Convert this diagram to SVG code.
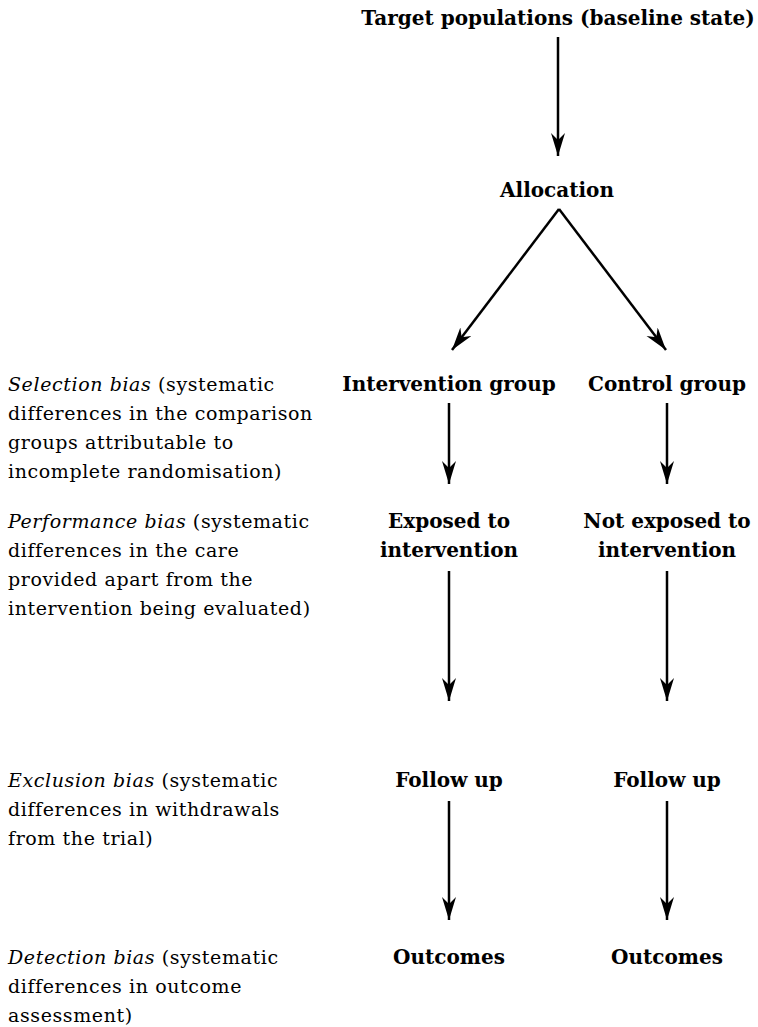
<svg xmlns="http://www.w3.org/2000/svg" width="758" height="1027" viewBox="0 0 758 1027">
<style>
.n{font-family:"DejaVu Serif","Liberation Serif",serif;font-weight:bold;font-size:20px;fill:#000;text-anchor:middle}
.b{font-family:"DejaVu Serif","Liberation Serif",serif;font-size:19px;letter-spacing:0.6px;fill:#000}
.i{font-style:italic}
.c{stroke:#000;stroke-width:2.5;fill:none;marker-end:url(#ah)}
</style>
<defs>
<marker id="ah" markerUnits="userSpaceOnUse" markerWidth="24" markerHeight="16" refX="23" refY="7" orient="auto" viewBox="0 0 24 16">
<path d="M0,0 L23,7 L0,14 L7,7 z" fill="#000"/>
</marker>
</defs>
<rect width="758" height="1027" fill="#fff"/>
<g id="connectors">
<line class="c" x1="558" y1="37" x2="558" y2="156"/>
<line class="c" x1="559" y1="209" x2="452" y2="350"/>
<line class="c" x1="559" y1="209" x2="666" y2="350"/>
<line class="c" x1="449" y1="403" x2="449" y2="484"/>
<line class="c" x1="667" y1="403" x2="667" y2="484"/>
<line class="c" x1="449" y1="571" x2="449" y2="701"/>
<line class="c" x1="667" y1="571" x2="667" y2="701"/>
<line class="c" x1="449" y1="801" x2="449" y2="920"/>
<line class="c" x1="667" y1="801" x2="667" y2="920"/>
</g>
<g id="target"><text class="n" x="558" y="25">Target populations (baseline state)</text></g>
<g id="allocation"><text class="n" x="557" y="197">Allocation</text></g>
<g id="intervention-group"><text class="n" x="449" y="391">Intervention group</text></g>
<g id="control-group"><text class="n" x="667" y="391">Control group</text></g>
<g id="exposed"><text class="n" x="449" y="528">Exposed to</text><text class="n" x="449" y="557">intervention</text></g>
<g id="not-exposed"><text class="n" x="667" y="528">Not exposed to</text><text class="n" x="667" y="557">intervention</text></g>
<g id="followup-i"><text class="n" x="449" y="787">Follow up</text></g>
<g id="followup-c"><text class="n" x="667" y="787">Follow up</text></g>
<g id="outcomes-i"><text class="n" x="449" y="964">Outcomes</text></g>
<g id="outcomes-c"><text class="n" x="667" y="964">Outcomes</text></g>
<g id="selection-bias">
<text class="b" x="8" y="391"><tspan class="i">Selection bias</tspan> (systematic</text>
<text class="b" x="8" y="420">differences in the comparison</text>
<text class="b" x="8" y="449">groups attributable to</text>
<text class="b" x="8" y="478">incomplete randomisation)</text>
</g>
<g id="performance-bias">
<text class="b" x="8" y="528"><tspan class="i">Performance bias</tspan> (systematic</text>
<text class="b" x="8" y="557">differences in the care</text>
<text class="b" x="8" y="586">provided apart from the</text>
<text class="b" x="8" y="615">intervention being evaluated)</text>
</g>
<g id="exclusion-bias">
<text class="b" x="8" y="787"><tspan class="i">Exclusion bias</tspan> (systematic</text>
<text class="b" x="8" y="816">differences in withdrawals</text>
<text class="b" x="8" y="845">from the trial)</text>
</g>
<g id="detection-bias">
<text class="b" x="8" y="964"><tspan class="i">Detection bias</tspan> (systematic</text>
<text class="b" x="8" y="993">differences in outcome</text>
<text class="b" x="8" y="1022">assessment)</text>
</g>
</svg>
